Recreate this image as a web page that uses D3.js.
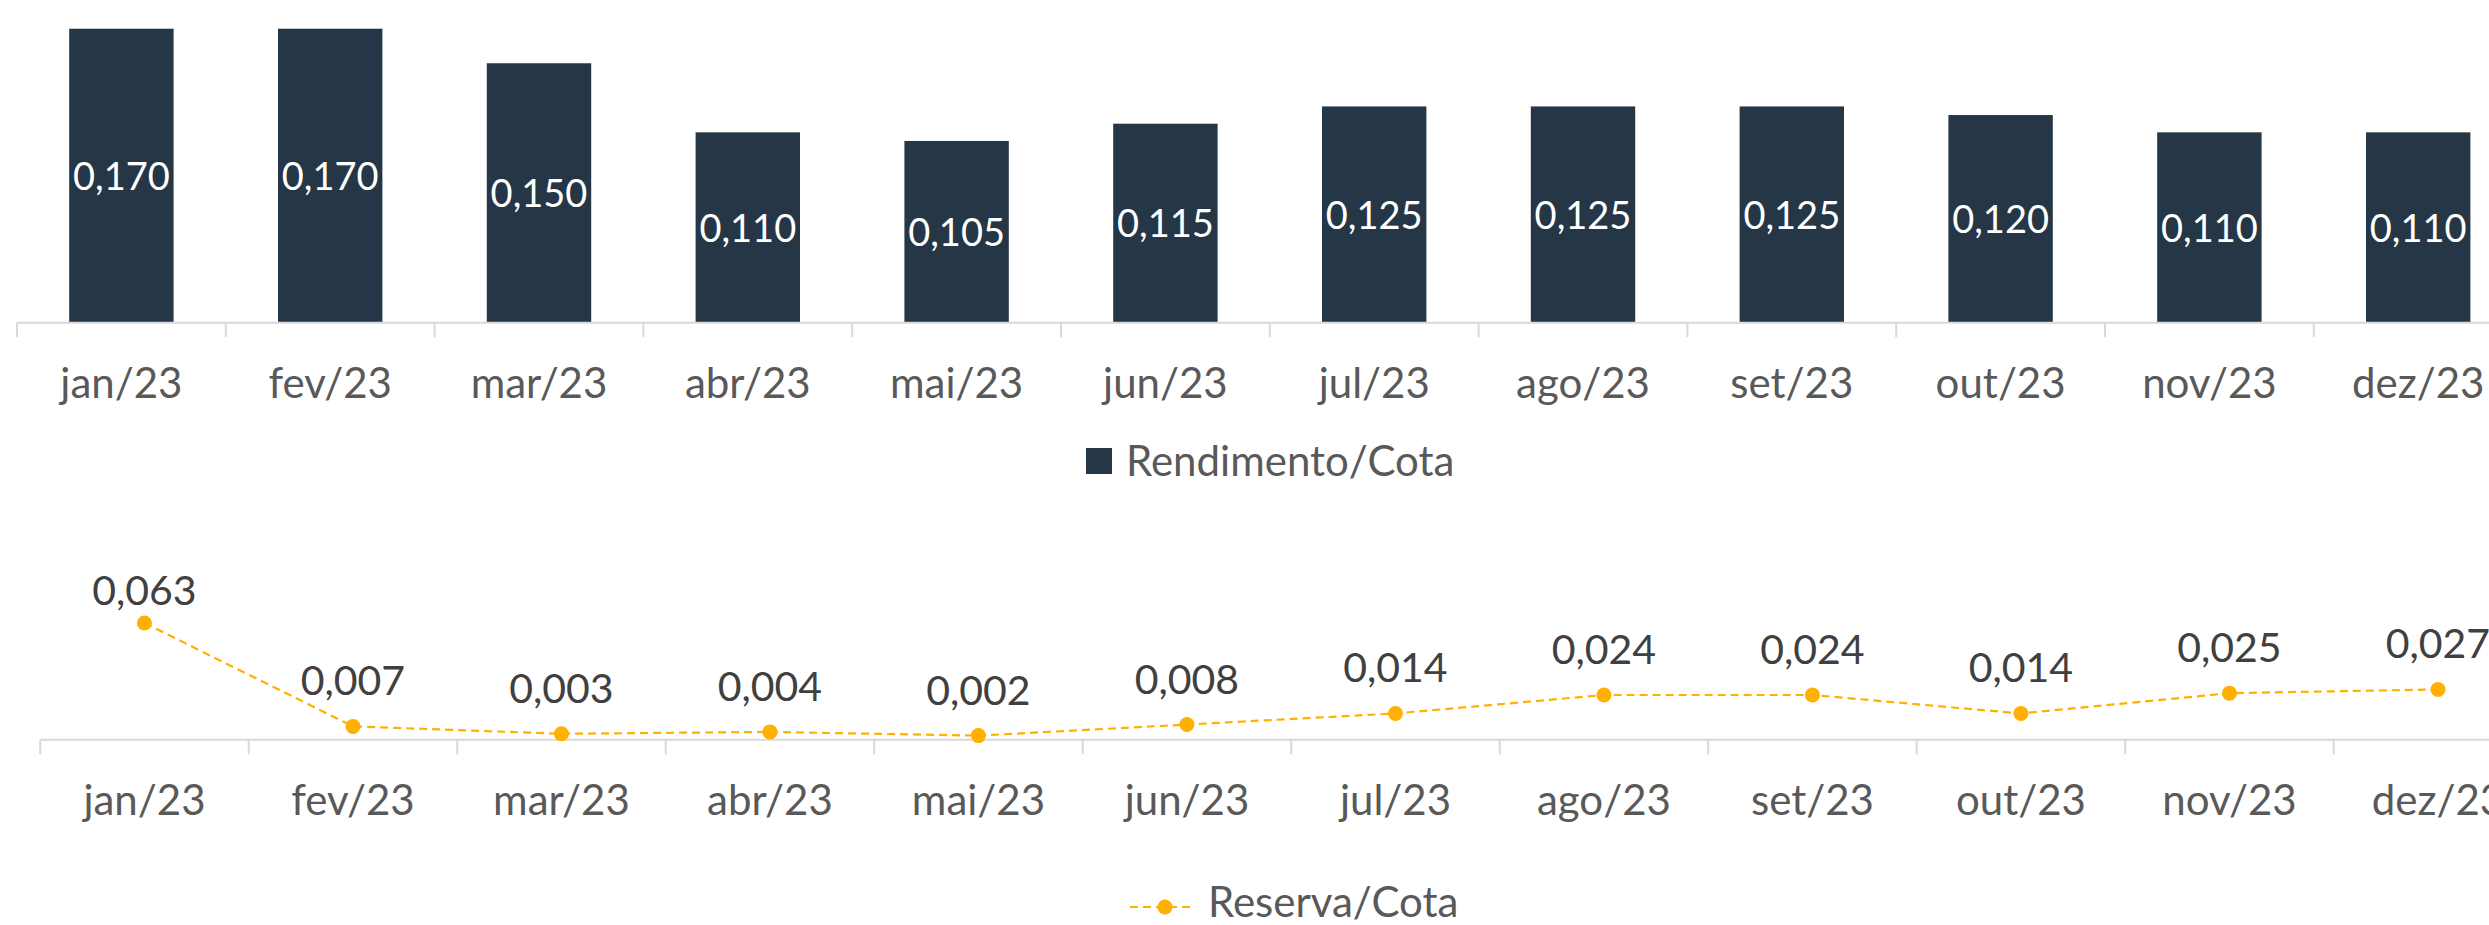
<!DOCTYPE html>
<html>
<head>
<meta charset="utf-8">
<script src="https://cdn.jsdelivr.net/npm/d3@7"></script>
<style>
  html, body { margin: 0; padding: 0; background: #fff; }
  svg { display: block; font-family: Lato, "Open Sans", sans-serif; }
</style>
</head>
<body>
<div id="chart"></div>
<script>
const months = ['jan/23', 'fev/23', 'mar/23', 'abr/23', 'mai/23', 'jun/23',
                'jul/23', 'ago/23', 'set/23', 'out/23', 'nov/23', 'dez/23'];
const rendimento = [0.170, 0.170, 0.150, 0.110, 0.105, 0.115, 0.125, 0.125, 0.125, 0.120, 0.110, 0.110];
const reserva = [0.063, 0.007, 0.003, 0.004, 0.002, 0.008, 0.014, 0.024, 0.024, 0.014, 0.025, 0.027];

const width = 2489, height = 925;

const navy = '#253746',
      amber = '#FFB000',
      axisGrey = '#D9D9D9',
      tickText = '#595959',
      labelText = '#404040';

const fmt = d3.formatLocale({decimal: ',', thousands: '.', grouping: [3], currency: ['R$', '']}).format('.3f');

let svg = d3.select('#chart').append('svg')
  .attr('width', width)
  .attr('height', height);

// category axis with Excel-like ticks between the categories
function drawAxis(g, x, y0, labelY) {
  g.attr('transform', `translate(0,${y0})`)
    .call(d3.axisBottom(x).tickSize(0).tickSizeOuter(0))
    .call(a => a.select('.domain').attr('stroke', axisGrey).attr('stroke-width', 2))
    .call(a => a.selectAll('.tick text')
      .attr('y', labelY)
      .attr('dy', 0)
      .attr('fill', tickText)
      .attr('font-size', 42)
      .attr('font-family', 'Lato, sans-serif'));

  g.selectAll('.sep')
    .data(d3.range(months.length + 1))
    .join('line')
      .attr('class', 'sep')
      .attr('x1', i => x.range()[0] + i * x.step())
      .attr('x2', i => x.range()[0] + i * x.step())
      .attr('y1', 0)
      .attr('y2', 15)
      .attr('stroke', axisGrey)
      .attr('stroke-width', 2);
}

// ---- top chart: Rendimento/Cota ----
let xTop = d3.scaleBand()
  .domain(months)
  .range([17, 17 + 12 * 208.8])
  .paddingInner(0.5)
  .paddingOuter(0.25);

let yTop = d3.scaleLinear()
  .domain([0, 0.18])
  .range([322.3, 322.3 - 0.18 * 1727]);

let barChart = svg.append('g');

barChart.selectAll('rect')
  .data(rendimento)
  .join('rect')
    .attr('x', (d, i) => xTop(months[i]))
    .attr('y', d => yTop(d))
    .attr('width', xTop.bandwidth())
    .attr('height', d => yTop(0) - yTop(d))
    .attr('fill', navy);

barChart.selectAll('.bar-label')
  .data(rendimento)
  .join('text')
    .attr('class', 'bar-label')
    .attr('x', (d, i) => xTop(months[i]) + xTop.bandwidth() / 2)
    .attr('y', d => (yTop(d) + yTop(0)) / 2)
    .attr('dy', '0.38em')
    .attr('text-anchor', 'middle')
    .attr('fill', '#fff')
    .attr('font-size', 38)
    .text(d => fmt(d));

barChart.append('g').call(drawAxis, xTop, yTop(0), 76);

// legend
let legTop = svg.append('g').attr('transform', 'translate(1086,448)');
legTop.append('rect')
  .attr('width', 26)
  .attr('height', 26)
  .attr('fill', navy);
legTop.append('text')
  .attr('x', 40)
  .attr('y', 28)
  .attr('fill', tickText)
  .attr('font-size', 42)
  .text('Rendimento/Cota');

// ---- bottom chart: Reserva/Cota ----
let xBot = d3.scaleBand()
  .domain(months)
  .range([40.2, 40.2 + 12 * 208.5]);

let yBot = d3.scaleLinear()
  .domain([0, 0.07])
  .range([739.3, 739.3 - 0.07 * 1846]);

let lineChart = svg.append('g');

lineChart.append('g').call(drawAxis, xBot, yBot(0), 76);

let line = d3.line()
  .x((d, i) => xBot(months[i]) + xBot.bandwidth() / 2)
  .y(d => yBot(d));

lineChart.append('path')
  .datum(reserva)
  .attr('d', line)
  .attr('fill', 'none')
  .attr('stroke', amber)
  .attr('stroke-width', 2.2)
  .attr('stroke-dasharray', '8,5');

lineChart.selectAll('circle')
  .data(reserva)
  .join('circle')
    .attr('cx', (d, i) => xBot(months[i]) + xBot.bandwidth() / 2)
    .attr('cy', d => yBot(d))
    .attr('r', 7.5)
    .attr('fill', amber);

// labels sit above the points, but stay inside the plot area
lineChart.selectAll('.pt-label')
  .data(reserva)
  .join('text')
    .attr('class', 'pt-label')
    .attr('x', (d, i) => xBot(months[i]) + xBot.bandwidth() / 2)
    .attr('y', d => Math.max(yBot(d) - 31, 605))
    .attr('text-anchor', 'middle')
    .attr('fill', labelText)
    .attr('font-size', 41)
    .text(d => fmt(d));

// legend
let legBot = svg.append('g').attr('transform', 'translate(1130,907)');
legBot.append('line')
  .attr('x1', 0)
  .attr('x2', 62)
  .attr('stroke', amber)
  .attr('stroke-width', 2.2)
  .attr('stroke-dasharray', '8,5');
legBot.append('circle')
  .attr('cx', 35)
  .attr('r', 7.5)
  .attr('fill', amber);
legBot.append('text')
  .attr('x', 78)
  .attr('y', 10)
  .attr('fill', tickText)
  .attr('font-size', 42)
  .text('Reserva/Cota');
</script>
</body>
</html>
